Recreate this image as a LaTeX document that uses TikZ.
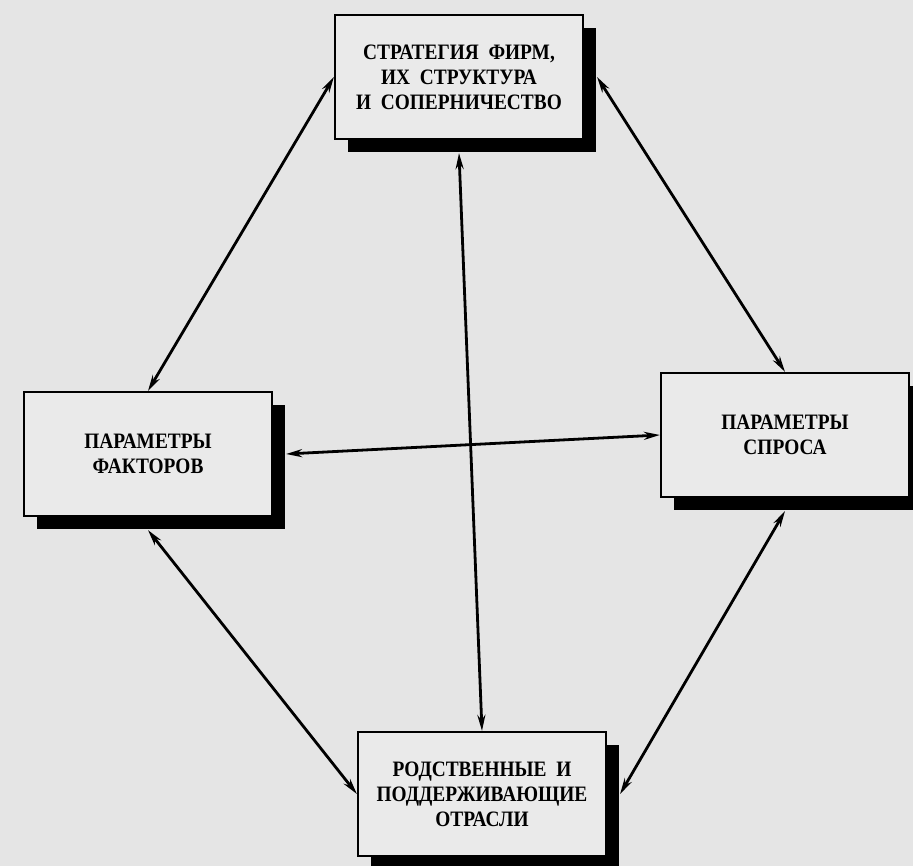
\documentclass[tikz,border=0pt]{standalone}
\usepackage{fontspec}
\setmainfont{Liberation Serif}[FakeStretch=0.88]
\usetikzlibrary{shadows,arrows.meta}
\definecolor{paper}{RGB}{229,229,229}
\definecolor{boxfill}{RGB}{234,234,234}
\tikzset{
  factor/.style={draw=black, line width=2.2pt, fill=boxfill,
    minimum width=248pt, minimum height=124pt, align=center,
    font=\fontsize{22}{25}\selectfont\bfseries,
    drop shadow={shadow xshift=13pt, shadow yshift=-13pt, fill=black, opacity=1}},
  link/.style={line width=2.8pt, {Stealth[length=16pt,width=8pt]}-{Stealth[length=16pt,width=8pt]}}
}
\begin{document}
\begin{tikzpicture}[x=1pt,y=-1pt]
\fill[paper] (0,0) rectangle (913,866);
\useasboundingbox (0,0) rectangle (913,866);
\node[factor] (strat) at (459,77) {СТРАТЕГИЯ \ ФИРМ,\\ИХ \ СТРУКТУРА\\И \ СОПЕРНИЧЕСТВО};
\node[factor] (fact) at (148,454) {ПАРАМЕТРЫ\\ФАКТОРОВ};
\node[factor] (dem) at (785,435) {ПАРАМЕТРЫ\\СПРОСА};
\node[factor] (rel) at (482,794) {РОДСТВЕННЫЕ \ И\\ПОДДЕРЖИВАЮЩИЕ\\ОТРАСЛИ};
\draw[link] (strat.west) -- (fact.north);
\draw[link] ([xshift=13pt]strat.east) -- (dem.north);
\draw[link] ([xshift=13pt]fact.east) -- (dem.west);
\draw[link] ([yshift=-13pt]strat.south) -- (rel.north);
\draw[link] ([yshift=-13pt]fact.south) -- (rel.west);
\draw[link] ([yshift=-13pt]dem.south) -- ([xshift=13pt]rel.east);
\end{tikzpicture}
\end{document}
